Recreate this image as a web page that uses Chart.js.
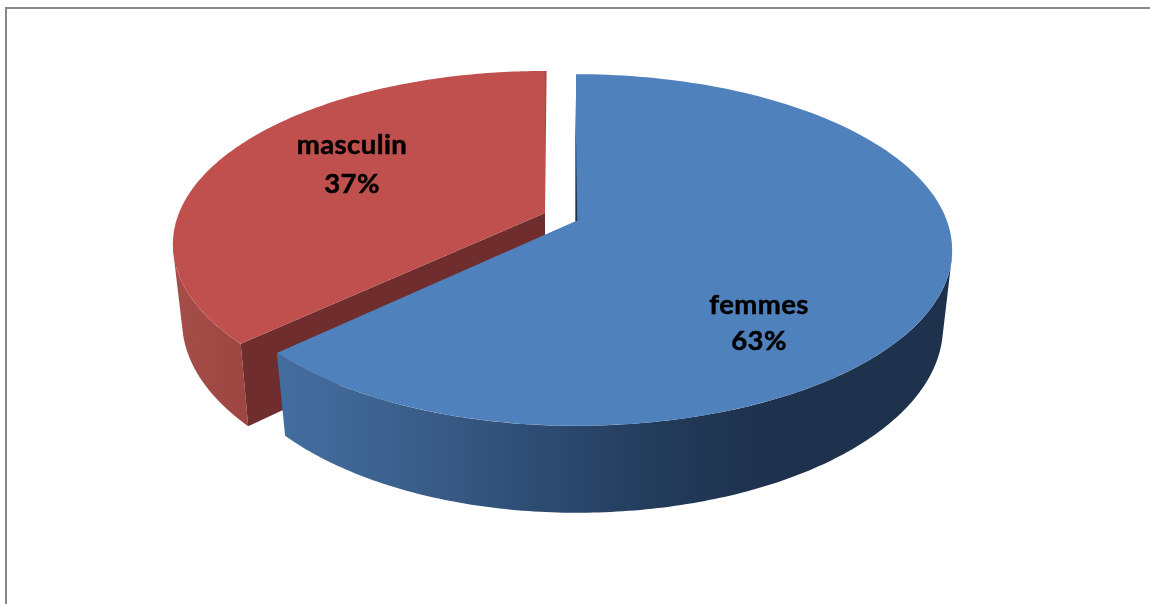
<!DOCTYPE html>
<html>
<head>
<meta charset="utf-8">
<script src="https://cdn.jsdelivr.net/npm/chart.js@4"></script>
<style>
html,body{margin:0;padding:0;background:#fff;overflow:hidden}
#wrap{position:absolute;left:0;top:0;width:1150px;height:604px}
#frame{position:absolute;left:5px;top:7px;width:1145px;height:597px;border-top:2px solid #868686;border-left:2px solid #868686;box-sizing:border-box}
canvas{position:absolute;left:0;top:0}
</style>
</head>
<body>
<div id="wrap"><div id="frame"></div><canvas id="c" width="1150" height="604"></canvas></div>
<script>
const categories = ['femmes', 'masculin'];
const shares = [63, 37];
const sliceColors = ['#4F81BD', '#C0504D'];

// Perspective view of each slice: its top face and its bottom face.
const VIEW = [
  {k: 0.165,
   top: {x: 576, y: 221, a: 371, aL: 364, b: 171},
   bottom: {x: 576, y: 296, a: 362, aL: 354, b: 181}},
  {k: 0.18,
   top: {x: 545, y: 213, a: 366, aL: 366, b: 167.6},
   bottom: {x: 545, y: 288, a: 357, aL: 357, b: 177}}
];

function project(face, k, u, v) {
  const w = 1 - k * v;
  return {x: face.x + (u < 0 ? face.aL : face.a) * u / w, y: face.y + face.b * v / w};
}
function rimPoints(face, k, from, to) {
  const pts = [];
  const n = 160;
  for (let i = 0; i <= n; i++) {
    const t = from + (to - from) * i / n;
    pts.push(project(face, k, Math.cos(t), Math.sin(t)));
  }
  return pts;
}
function trace(ctx, pts) {
  pts.forEach((p, i) => i ? ctx.lineTo(p.x, p.y) : ctx.moveTo(p.x, p.y));
  ctx.closePath();
}
function fillShape(ctx, pts, style) {
  ctx.fillStyle = style;
  ctx.beginPath();
  trace(ctx, pts);
  ctx.fill();
}
function signedArea(pts) {
  let s = 0;
  pts.forEach((p, i) => {
    const q = pts[(i + 1) % pts.length];
    s += p.x * q.y - q.x * p.y;
  });
  return s;
}
// Side wall as one path of same-wound strips, so that the outline follows the tangent between both rims.
function fillWall(ctx, view, from, to, style) {
  const up = rimPoints(view.top, view.k, from, to);
  const dn = rimPoints(view.bottom, view.k, from, to);
  ctx.fillStyle = style;
  ctx.beginPath();
  for (let i = 0; i < up.length - 1; i++) {
    const quad = [up[i], up[i + 1], dn[i + 1], dn[i]];
    trace(ctx, signedArea(quad) < 0 ? quad.reverse() : quad);
  }
  ctx.fill();
}
function hGrad(ctx, x0, x1, stops) {
  const g = ctx.createLinearGradient(x0, 0, x1, 0);
  stops.forEach(s => g.addColorStop(s[0], s[1]));
  return g;
}

const pie3d = {
  id: 'pie3d',
  beforeDatasetsDraw(chart) {
    const ctx = chart.ctx;
    const arcs = chart.getDatasetMeta(0).data;
    const colors = chart.data.datasets[0].backgroundColor;
    ctx.save();

    // red slice: outer wall, cut face, top, thin lit edge on the right
    const r = arcs[1], rv = VIEW[1];
    fillWall(ctx, rv, r.startAngle, r.startAngle + 0.6,
      hGrad(ctx, 175, 255, [[0, '#A54E49'], [1, '#9C4440']]));
    const cu = Math.cos(r.startAngle), cv = Math.sin(r.startAngle);
    const rApex = project(rv.top, rv.k, 0, 0);
    fillShape(ctx, [rApex, project(rv.top, rv.k, cu, cv),
                    project(rv.bottom, rv.k, cu, cv), project(rv.bottom, rv.k, 0, 0)], '#6F2E2D');
    fillShape(ctx, [rApex].concat(rimPoints(rv.top, rv.k, r.startAngle, r.endAngle)), colors[1]);
    const rTip = project(rv.top, rv.k, 0, -1);
    fillShape(ctx, [rApex, {x: rTip.x + 1.6, y: rTip.y}, rTip], '#A84643');

    // blue slice: outer wall, top, thin dark edge on the left
    const b = arcs[0], bv = VIEW[0];
    fillWall(ctx, bv, b.startAngle + 1.75, b.endAngle, hGrad(ctx, 285, 900, [
      [0, '#436D9F'], [0.2, '#3B5F8B'], [0.42, '#2D4B71'], [0.62, '#223A59'], [0.78, '#1E324D'], [1, '#1E324D']]));
    const bApex = project(bv.top, bv.k, 0, 0);
    fillShape(ctx, [bApex].concat(rimPoints(bv.top, bv.k, b.startAngle, b.endAngle)), colors[0]);
    const bTip = project(bv.top, bv.k, 0, -1);
    fillShape(ctx, [{x: bTip.x - 0.7, y: bTip.y + 20}, {x: bApex.x - 0.7, y: bApex.y},
                    {x: bApex.x + 1.3, y: bApex.y}], '#1E324D');

    ctx.restore();
    return false;
  },
  afterDraw(chart) {
    const ctx = chart.ctx;
    ctx.save();
    ctx.fillStyle = '#000';
    ctx.strokeStyle = '#000';
    ctx.lineWidth = 0.5;
    ctx.font = 'bold 27.5px Lato, "Open Sans", sans-serif';
    ctx.letterSpacing = '0.4px';
    ctx.textAlign = 'center';
    ctx.textBaseline = 'middle';
    const places = [{x: 759, y1: 305, y2: 341}, {x: 352, y1: 145, y2: 184}];
    categories.forEach((name, i) => {
      [[name, places[i].y1], [shares[i] + '%', places[i].y2]].forEach(([s, y]) => {
        ctx.fillText(s, places[i].x, y);
        ctx.strokeText(s, places[i].x, y);
      });
    });
    ctx.restore();
  }
};

new Chart(document.getElementById('c'), {
  type: 'pie',
  data: {
    labels: categories,
    datasets: [{data: shares, backgroundColor: sliceColors, borderWidth: 0}]
  },
  options: {
    responsive: false,
    animation: false,
    plugins: {legend: {display: false}, tooltip: {enabled: false}}
  },
  plugins: [pie3d]
});
</script>
</body>
</html>
